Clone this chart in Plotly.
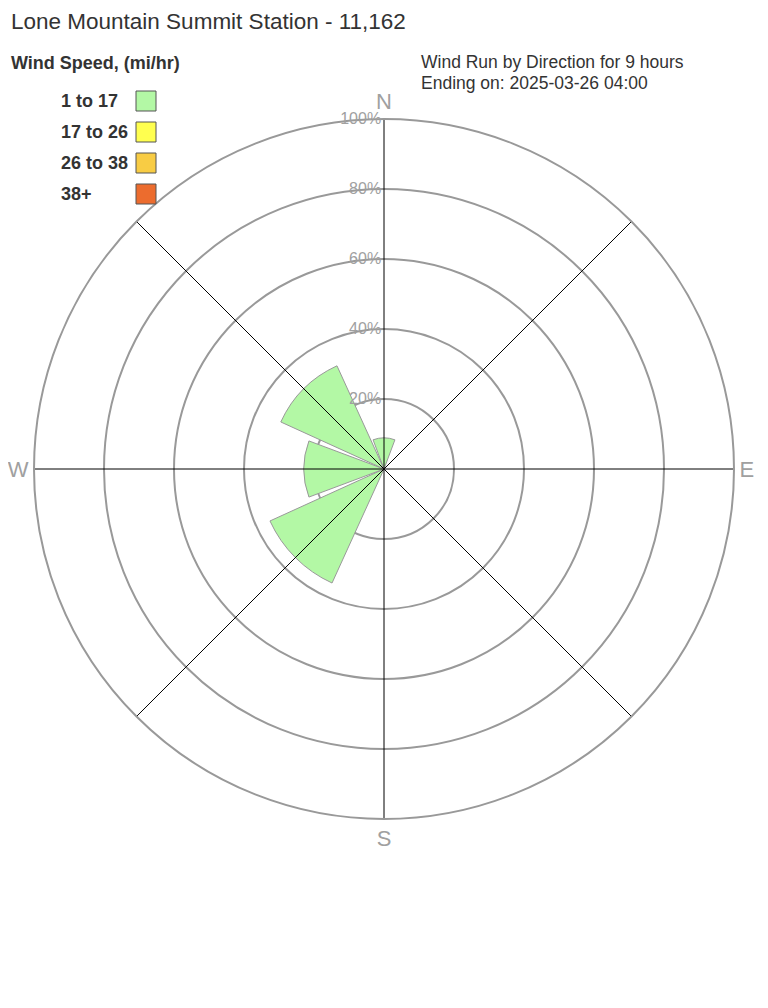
import plotly.graph_objects as go

# ---- data ----
directions = [0, 45, 90, 135, 180, 225, 270, 315]
dir_names = ["N", "NE", "E", "SE", "S", "SW", "W", "NW"]
speed_classes = ["1 to 17", "17 to 26", "26 to 38", "38+"]
class_colors = ["#b3f8a5", "#ffff4f", "#f8cc44", "#ec6c2e"]
pct_1_17 = [8.9, 0, 0, 0, 0, 35.8, 22.9, 32.4]
pct_17_26 = [0, 0, 0, 0, 0, 0, 0, 0]
pct_26_38 = [0, 0, 0, 0, 0, 0, 0, 0]
pct_38_plus = [0, 0, 0, 0, 0, 0, 0, 0]
series = [pct_1_17, pct_17_26, pct_26_38, pct_38_plus]
radial_ticks = [20, 40, 60, 80, 100]
radial_ticktext = ["20%", "40%", "60%", "80%", "100%"]
compass_ticktext = ["N", "", "E", "", "S", "", "W", ""]
title_text = "Lone Mountain Summit Station - 11,162"
legend_title = "Wind Speed, (mi/hr)"
subtitle_lines = ["Wind Run by Direction for 9 hours", "Ending on: 2025-03-26 04:00"]

# page body adds an 8px offset; compensate
OFF = 8
W, H = 768 - OFF, 1008 - OFF
FONT = "Liberation Sans, Arial, sans-serif"

fig = go.Figure()
for name, vals, col in zip(speed_classes, series, class_colors):
    fig.add_trace(go.Barpolar(
        r=vals, theta=directions, name=name, width=41,
        marker=dict(color=col, line=dict(color="#999999", width=1)),
        showlegend=False,
    ))

# spokes drawn over bars
rmax = radial_ticks[-1]
sp_r, sp_t = [], []
for d in directions:
    sp_r += [0, rmax, None]
    sp_t += [d, d, None]
fig.add_trace(go.Scatterpolar(r=sp_r, theta=sp_t, mode="lines",
                              line=dict(color="black", width=1),
                              hoverinfo="skip", showlegend=False))

def px(x):
    return (x - OFF) / W

def py(y):
    return 1 - (y - OFF) / H

annotations = [
    dict(text=title_text, x=px(9), y=py(21), font=dict(size=22.5, color="#333333")),
    dict(text="<b>" + legend_title + "</b>", x=px(9), y=py(63), font=dict(size=18, color="#333333")),
    dict(text=subtitle_lines[0], x=px(419), y=py(62), font=dict(size=17.5, color="#333333")),
    dict(text=subtitle_lines[1], x=px(419), y=py(83), font=dict(size=17.5, color="#333333")),
]
shapes = []
for i, (name, col) in enumerate(zip(speed_classes, class_colors)):
    yc = 101 + 31 * i
    annotations.append(dict(text="<b>" + name + "</b>", x=px(59), y=py(yc),
                            font=dict(size=18, color="#333333")))
    shapes.append(dict(type="rect", xref="paper", yref="paper",
                       x0=px(136), x1=px(156), y0=py(yc - 10), y1=py(yc + 10),
                       fillcolor=col, line=dict(color="#555555", width=1)))
for a in annotations:
    a.update(xref="paper", yref="paper", xanchor="left", yanchor="middle", showarrow=False)

fig.update_layout(
    width=W, height=H,
    margin=dict(l=0, r=0, t=0, b=0),
    paper_bgcolor="white",
    font=dict(family=FONT),
    showlegend=False,
    annotations=annotations,
    shapes=shapes,
    polar=dict(
        domain=dict(x=[px(34), px(734)], y=[py(819), py(119)]),
        bgcolor="white",
        barmode="stack",
        radialaxis=dict(range=[0, rmax], tickvals=radial_ticks, ticktext=radial_ticktext,
                        angle=90, side="counterclockwise", tickangle=90,
                        showline=False, ticks="", gridcolor="#999999", gridwidth=2,
                        tickfont=dict(size=16, color="#a0a0a0")),
        angularaxis=dict(rotation=90, direction="clockwise", tickmode="array",
                         tickvals=directions, ticktext=compass_ticktext,
                         showgrid=False, showline=True, linecolor="#999999", linewidth=2,
                         ticks="", tickfont=dict(size=22, color="#a0a0a0")),
    ),
)

fig.write_html("out.html")
